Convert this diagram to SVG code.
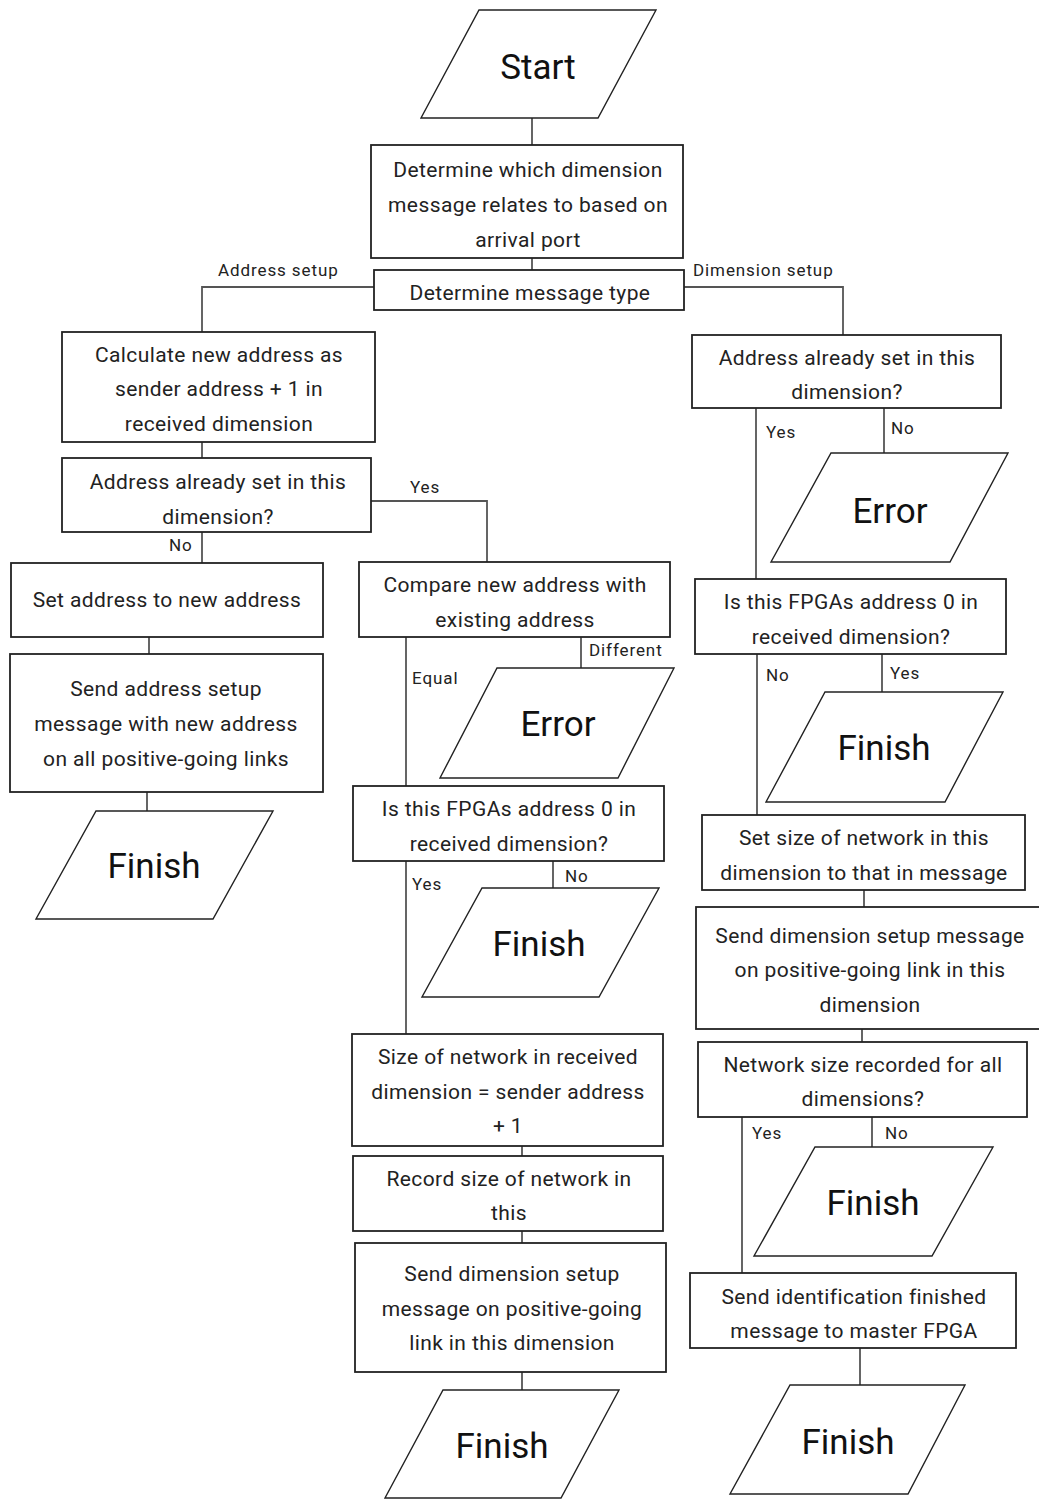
<svg xmlns="http://www.w3.org/2000/svg" width="1039" height="1500" viewBox="0 0 1039 1500">
<style>
.b{fill:#fff;stroke:#222;stroke-width:1.8}
.p{fill:#fff;stroke:#222;stroke-width:1.4}
.c{fill:none;stroke:#555;stroke-width:1.8}
.t{font-family:Roboto,"Liberation Sans",sans-serif;font-size:21px;letter-spacing:0.4px;fill:#222;text-anchor:middle}
.big{font-family:Roboto,"Liberation Sans",sans-serif;font-size:35px;fill:#111;text-anchor:middle}
.l{font-family:Roboto,"Liberation Sans",sans-serif;font-size:17px;letter-spacing:0.9px;fill:#222}
</style>
<rect width="1039" height="1500" fill="#fff"/>
<g id="connectors">
<path class="c" d="M532 118V145"/>
<path class="c" d="M532 258V270"/>
<path class="c" d="M374 287H202V332"/>
<path class="c" d="M684 287H843V335"/>
<path class="c" d="M202 442V458"/>
<path class="c" d="M371 501H487V562"/>
<path class="c" d="M202 532V563"/>
<path class="c" d="M149 637V654"/>
<path class="c" d="M147 792V811"/>
<path class="c" d="M406 637V786"/>
<path class="c" d="M581 637V668"/>
<path class="c" d="M406 861V1034"/>
<path class="c" d="M553 861V888"/>
<path class="c" d="M522 1146V1156"/>
<path class="c" d="M522 1231V1243"/>
<path class="c" d="M522 1372V1390"/>
<path class="c" d="M756 408V579"/>
<path class="c" d="M884 408V453"/>
<path class="c" d="M757 654V815"/>
<path class="c" d="M882 654V692"/>
<path class="c" d="M864 890V907"/>
<path class="c" d="M862 1029V1042"/>
<path class="c" d="M742 1117V1273"/>
<path class="c" d="M872 1117V1147"/>
<path class="c" d="M860 1348V1385"/>
<text class="l" x="218" y="276">Address setup</text>
<text class="l" x="693" y="276">Dimension setup</text>
<text class="l" x="410" y="493">Yes</text>
<text class="l" x="169" y="551">No</text>
<text class="l" x="589" y="656">Different</text>
<text class="l" x="412" y="684">Equal</text>
<text class="l" x="412" y="890">Yes</text>
<text class="l" x="565" y="882">No</text>
<text class="l" x="766" y="438">Yes</text>
<text class="l" x="891" y="434">No</text>
<text class="l" x="766" y="681">No</text>
<text class="l" x="890" y="679">Yes</text>
<text class="l" x="752" y="1139">Yes</text>
<text class="l" x="885" y="1139">No</text>
</g>
<g id="start">
<polygon class="p" points="479,10 656,10 598,118 421,118"/>
<text class="big" x="538" y="79">Start</text>
</g>
<g id="determine-dimension">
<rect class="b" x="371" y="145" width="312" height="113"/>
<text class="t" x="528" y="177">Determine which dimension</text>
<text class="t" x="528" y="212">message relates to based on</text>
<text class="t" x="528" y="247">arrival port</text>
</g>
<g id="determine-type">
<rect class="b" x="374" y="270" width="310" height="40"/>
<text class="t" x="530" y="300">Determine message type</text>
</g>
<g id="calculate-address">
<rect class="b" x="62" y="332" width="313" height="110"/>
<text class="t" x="219" y="362">Calculate new address as</text>
<text class="t" x="219" y="396">sender address + 1 in</text>
<text class="t" x="219" y="431">received dimension</text>
</g>
<g id="address-set-left">
<rect class="b" x="62" y="458" width="309" height="74"/>
<text class="t" x="218" y="489">Address already set in this</text>
<text class="t" x="218" y="524">dimension?</text>
</g>
<g id="set-address">
<rect class="b" x="11" y="563" width="312" height="74"/>
<text class="t" x="167" y="607">Set address to new address</text>
</g>
<g id="send-address-setup">
<rect class="b" x="10" y="654" width="313" height="138"/>
<text class="t" x="166" y="696">Send address setup</text>
<text class="t" x="166" y="731">message with new address</text>
<text class="t" x="166" y="766">on all positive-going links</text>
</g>
<g id="finish-1">
<polygon class="p" points="96,811 273,811 213,919 36,919"/>
<text class="big" x="154" y="878">Finish</text>
</g>
<g id="compare">
<rect class="b" x="359" y="562" width="311" height="75"/>
<text class="t" x="515" y="592">Compare new address with</text>
<text class="t" x="515" y="627">existing address</text>
</g>
<g id="error-1">
<polygon class="p" points="497,668 674,668 618,778 440,778"/>
<text class="big" x="558" y="736">Error</text>
</g>
<g id="fpga-zero-mid">
<rect class="b" x="353" y="786" width="311" height="75"/>
<text class="t" x="509" y="816">Is this FPGAs address 0 in</text>
<text class="t" x="509" y="851">received dimension?</text>
</g>
<g id="finish-2">
<polygon class="p" points="482,888 659,888 599,997 422,997"/>
<text class="big" x="539" y="956">Finish</text>
</g>
<g id="size-network">
<rect class="b" x="352" y="1034" width="311" height="112"/>
<text class="t" x="508" y="1064">Size of network in received</text>
<text class="t" x="508" y="1099">dimension = sender address</text>
<text class="t" x="508" y="1133">+ 1</text>
</g>
<g id="record-size">
<rect class="b" x="353" y="1156" width="310" height="75"/>
<text class="t" x="509" y="1186">Record size of network in</text>
<text class="t" x="509" y="1220">this</text>
</g>
<g id="send-dim-mid">
<rect class="b" x="355" y="1243" width="311" height="129"/>
<text class="t" x="512" y="1281">Send dimension setup</text>
<text class="t" x="512" y="1316">message on positive-going</text>
<text class="t" x="512" y="1350">link in this dimension</text>
</g>
<g id="finish-3">
<polygon class="p" points="443,1390 619,1390 561,1498 385,1498"/>
<text class="big" x="502" y="1458">Finish</text>
</g>
<g id="address-set-right">
<rect class="b" x="692" y="335" width="309" height="73"/>
<text class="t" x="847" y="365">Address already set in this</text>
<text class="t" x="847" y="399">dimension?</text>
</g>
<g id="error-2">
<polygon class="p" points="831,453 1008,453 950,562 771,562"/>
<text class="big" x="890" y="523">Error</text>
</g>
<g id="fpga-zero-right">
<rect class="b" x="695" y="579" width="311" height="75"/>
<text class="t" x="851" y="609">Is this FPGAs address 0 in</text>
<text class="t" x="851" y="644">received dimension?</text>
</g>
<g id="finish-4">
<polygon class="p" points="825,692 1003,692 945,802 766,802"/>
<text class="big" x="884" y="760">Finish</text>
</g>
<g id="set-size">
<rect class="b" x="702" y="815" width="323" height="75"/>
<text class="t" x="864" y="845">Set size of network in this</text>
<text class="t" x="864" y="880">dimension to that in message</text>
</g>
<g id="send-dim-right">
<rect class="b" x="696" y="907" width="346" height="122"/>
<text class="t" x="870" y="943">Send dimension setup message</text>
<text class="t" x="870" y="977">on positive-going link in this</text>
<text class="t" x="870" y="1012">dimension</text>
</g>
<g id="network-size-all">
<rect class="b" x="698" y="1042" width="329" height="75"/>
<text class="t" x="863" y="1072">Network size recorded for all</text>
<text class="t" x="863" y="1106">dimensions?</text>
</g>
<g id="finish-5">
<polygon class="p" points="815,1147 993,1147 932,1256 754,1256"/>
<text class="big" x="873" y="1215">Finish</text>
</g>
<g id="send-identification">
<rect class="b" x="690" y="1273" width="326" height="75"/>
<text class="t" x="854" y="1304">Send identification finished</text>
<text class="t" x="854" y="1338">message to master FPGA</text>
</g>
<g id="finish-6">
<polygon class="p" points="790,1385 965,1385 908,1494 730,1494"/>
<text class="big" x="848" y="1454">Finish</text>
</g>
</svg>
